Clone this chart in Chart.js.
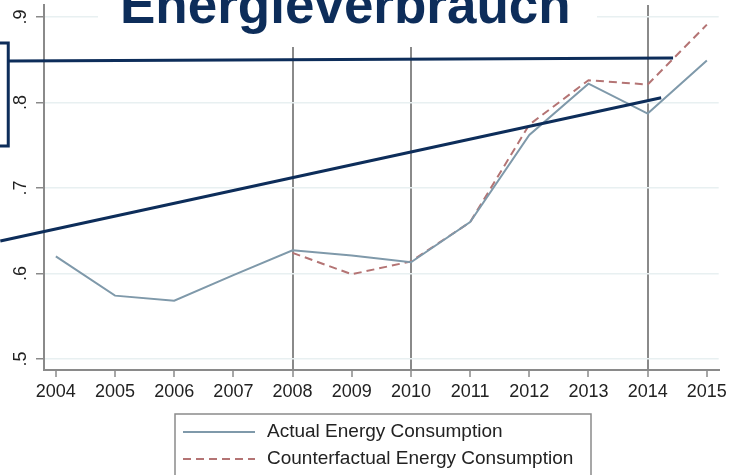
<!DOCTYPE html>
<html>
<head>
<meta charset="utf-8">
<script src="https://cdn.jsdelivr.net/npm/chart.js@4.4.1/dist/chart.umd.min.js"></script>
<style>
html, body { margin: 0; padding: 0; background: #fff; }
#wrap { width: 731px; height: 475px; position: relative; }
</style>
</head>
<body>
<div id="wrap"><canvas id="energy"></canvas></div>
<script>
"use strict";

const years = [2004, 2005, 2006, 2007, 2008, 2009, 2010, 2011, 2012, 2013, 2014, 2015];
const actualUse = [0.620, 0.574, 0.568, 0.598, 0.627, 0.621, 0.613, 0.660, 0.762, 0.822, 0.787, 0.849];
const counterfactualUse = [null, null, null, null, 0.624, 0.599, 0.614, 0.660, 0.774, 0.826, 0.821, 0.891];
const yTicks = [0.5, 0.6, 0.7, 0.8, 0.9];
const markedYears = [2008, 2010, 2014];
const seriesLabels = ["Actual Energy Consumption", "Counterfactual Energy Consumption"];
const titleText = "Energieverbrauch";

// hand-drawn overlay strokes from the slide, in data units
const flatStrokeX = [2003.196, 2014.429];
const flatStrokeY = [0.8485, 0.852];
const riseStrokeX = [2003.062, 2014.228];
const riseStrokeY = [0.638, 0.8056];
const frameX = [2002.9, 2003.196, 2003.196, 2002.9];
const frameY = [0.8695, 0.8695, 0.749, 0.749];

const NAVY = "#0d2d5a";
const AXIS = "#8a8a8a";
const FONT = "'Liberation Sans', Arial, sans-serif";

function pts(xs, ys) {
    return xs.map(function(x, i) { return { x: x, y: ys[i] }; });
}

function tickLabel(v) {
    return v.toFixed(1).replace(/^0/, "");
}

// y labels are turned on their side, like Stata prints them
const sideLabels = {
    id: "sideLabels",
    afterDraw(chart) {
        const ctx = chart.ctx;
        const y = chart.scales.y;
        ctx.save();
        ctx.fillStyle = "#222";
        ctx.font = "18px " + FONT;
        ctx.textAlign = "center";
        ctx.textBaseline = "middle";
        yTicks.forEach(function(v) {
            ctx.save();
            ctx.translate(21, y.getPixelForValue(v));
            ctx.rotate(-Math.PI / 2);
            ctx.fillText(tickLabel(v), 0, 0);
            ctx.restore();
        });
        ctx.restore();
    }
};

const slideTitle = {
    id: "slideTitle",
    afterDraw(chart) {
        const ctx = chart.ctx;
        ctx.save();
        ctx.fillStyle = "#fff";
        ctx.fillRect(98, 0, 499, 47);
        ctx.fillStyle = NAVY;
        ctx.font = "bold 53px " + FONT;
        ctx.textAlign = "left";
        ctx.textBaseline = "alphabetic";
        ctx.fillText(titleText, 120, 23);
        ctx.restore();
    }
};

const boxLegend = {
    id: "boxLegend",
    afterDraw(chart) {
        const ctx = chart.ctx;
        ctx.save();
        ctx.strokeStyle = AXIS;
        ctx.lineWidth = 1.5;
        ctx.strokeRect(175, 414, 416, 80);
        ctx.font = "19px " + FONT;
        ctx.fillStyle = "#222";
        ctx.textBaseline = "middle";
        [0, 1].forEach(function(i) {
            const ds = chart.data.datasets[i];
            const yy = 432 + i * 27;
            ctx.beginPath();
            ctx.strokeStyle = ds.borderColor;
            ctx.lineWidth = 2;
            ctx.setLineDash(ds.borderDash || []);
            ctx.moveTo(183, yy);
            ctx.lineTo(255, yy);
            ctx.stroke();
            ctx.setLineDash([]);
            ctx.fillText(ds.label, 267, yy);
        });
        ctx.restore();
    }
};

const overlay = {
    borderColor: NAVY,
    borderWidth: 3,
    pointRadius: 0,
    clip: false,
    order: -1
};

new Chart(document.getElementById("energy"), {
    type: "line",
    data: {
        datasets: [ {
            label: seriesLabels[0],
            data: pts(years, actualUse),
            borderColor: "#7f99aa",
            borderWidth: 2,
            pointRadius: 0,
            order: 1
        }, {
            label: seriesLabels[1],
            data: pts(years, counterfactualUse),
            borderColor: "#b47474",
            borderWidth: 2,
            borderDash: [8, 5],
            pointRadius: 0,
            order: 1
        },
        Object.assign({ label: "flat", data: pts(flatStrokeX, flatStrokeY) }, overlay),
        Object.assign({ label: "rise", data: pts(riseStrokeX, riseStrokeY) }, overlay),
        Object.assign({ label: "frame", data: pts(frameX, frameY), borderWidth: 2.5 }, overlay) ]
    },
    options: {
        responsive: true,
        maintainAspectRatio: false,
        animation: false,
        events: [],
        layout: { padding: { top: 5, right: 7, left: 0, bottom: 0 } },
        plugins: {
            legend: { display: false },
            tooltip: { enabled: false }
        },
        scales: {
            x: {
                type: "linear",
                min: 2003.8,
                max: 2015.2,
                afterBuildTicks: function(scale) {
                    scale.ticks = years.map(function(v) { return { value: v }; });
                },
                afterFit: function(scale) { scale.height = 105; },
                ticks: {
                    autoSkip: false,
                    maxRotation: 0,
                    padding: 4,
                    color: "#222",
                    font: { size: 18, family: FONT },
                    callback: function(v) { return String(v); }
                },
                grid: {
                    color: function(c) {
                        return c.tick && markedYears.includes(c.tick.value) ? AXIS : "rgba(0,0,0,0)";
                    },
                    lineWidth: 2,
                    tickColor: AXIS,
                    tickLength: 7,
                    tickWidth: 1.5
                },
                border: { color: AXIS, width: 2 }
            },
            y: {
                min: 0.487,
                max: 0.914,
                afterBuildTicks: function(scale) {
                    scale.ticks = yTicks.map(function(v) { return { value: v }; });
                },
                afterFit: function(scale) { scale.width = 44; },
                ticks: { display: false },
                grid: {
                    color: "#e8f0f1",
                    lineWidth: 1.5,
                    tickColor: AXIS,
                    tickLength: 8,
                    tickWidth: 1.5
                },
                border: { color: AXIS, width: 2 }
            }
        }
    },
    plugins: [ sideLabels, slideTitle, boxLegend ]
});
</script>
</body>
</html>
